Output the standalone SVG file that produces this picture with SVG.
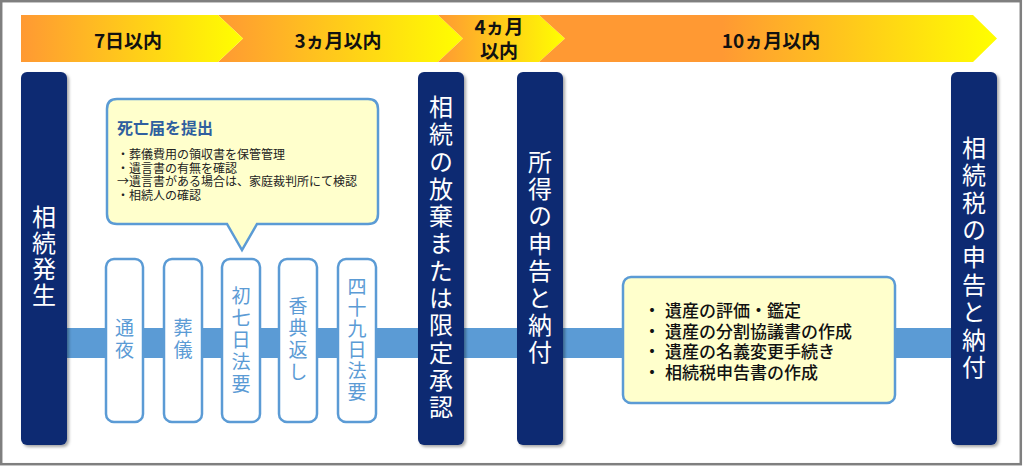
<svg xmlns="http://www.w3.org/2000/svg" width="1024" height="466" viewBox="0 0 1024 466">
<style>
.bn{font-family:"Noto Sans CJK JP","Noto Sans",sans-serif;font-weight:bold;font-size:19px;fill:#111;text-anchor:middle}
.dk{fill:#0D2A72;filter:url(#sh)}
.dt{font-family:"Noto Sans CJK JP","Noto Sans",sans-serif;font-size:24px;fill:#fff;text-anchor:middle;writing-mode:vertical-rl;text-orientation:upright}
.sb{fill:#fff;stroke:#5B9BD5;stroke-width:2.5}
.st{font-family:"Noto Sans CJK JP","Noto Sans",sans-serif;font-size:19px;fill:#5B9BD5;text-anchor:middle;writing-mode:vertical-rl;text-orientation:upright}
.note{fill:#FFFFCC;stroke:#5B9BD5;stroke-width:2.5}
.ct{font-family:"Noto Sans CJK JP","Noto Sans",sans-serif;font-size:12px;fill:#222}
.rt{font-family:"Noto Sans CJK JP","Noto Sans",sans-serif;font-size:17px;font-weight:500;fill:#111}
</style>
<defs>
<linearGradient id="g1" x1="0" y1="0" x2="1" y2="0"><stop offset="0" stop-color="#FF9933"/><stop offset="1" stop-color="#FFFF00"/></linearGradient>
<linearGradient id="g4" x1="0" y1="0" x2="1" y2="0"><stop offset="0" stop-color="#FF9933"/><stop offset="0.4" stop-color="#FF9933"/><stop offset="1" stop-color="#FFFF00"/></linearGradient>
<filter id="sh" x="-30%" y="-5%" width="160%" height="110%"><feDropShadow dx="2" dy="2" stdDeviation="1.5" flood-color="#000" flood-opacity="0.35"/></filter>
</defs>
<rect x="0" y="0" width="1024" height="466" fill="#fff"/>
<rect x="1.2" y="1.2" width="1019.6" height="463" fill="none" stroke="#7F7F7F" stroke-width="2.5"/>

<g id="banner">
<polygon points="218,15 438,15 463,38.5 438,62 218,62 243,38.5" fill="url(#g1)"/>
<polygon points="438,15 539,15 565,38.5 539,62 438,62 463,38.5" fill="url(#g1)"/>
<polygon points="539,15 973,15 997,38.5 973,62 539,62 565,38.5" fill="url(#g4)"/>
<polygon points="21,15 218,15 243,38.5 218,62 21,62" fill="url(#g1)"/>
<text class="bn" x="128" y="48">7日以内</text>
<text class="bn" x="338" y="48">3ヵ月以内</text>
<text class="bn" x="499" y="34">4ヵ月</text>
<text class="bn" x="499" y="58">以内</text>
<text class="bn" x="771" y="48">10ヵ月以内</text>
</g>

<g id="connectors">
<rect x="60" y="328" width="896" height="30" fill="#5B9BD5"/>
</g>

<g id="n-start">
<rect class="dk" x="21" y="72" width="46" height="373" rx="6"/>
<text class="dt" x="44" y="257" letter-spacing="2">相続発生</text>
</g>

<g id="n-callout">
<path class="note" d="M117,99 H368 Q378,99 378,109 V214 Q378,224 368,224 H257 L242,250 L227,224 H117 Q107,224 107,214 V109 Q107,99 117,99 Z"/>
<text x="117" y="134" font-family="'Noto Sans CJK JP','Noto Sans',sans-serif" font-size="16" font-weight="bold" fill="#2F5F9F">死亡届を提出</text>
<text class="ct" x="117" y="159">・葬儀費用の領収書を保管管理</text>
<text class="ct" x="117" y="172.5">・遺言書の有無を確認</text>
<text class="ct" x="117" y="186">→遺言書がある場合は、家庭裁判所にて検認</text>
<text class="ct" x="117" y="199.5">・相続人の確認</text>
</g>

<g id="n-tsuya">
<rect class="sb" x="106" y="259" width="37" height="163" rx="8"/>
<text class="st" x="124.5" y="340" letter-spacing="2.5">通夜</text>
</g>
<g id="n-sougi">
<rect class="sb" x="164" y="259" width="38" height="163" rx="8"/>
<text class="st" x="183" y="340" letter-spacing="2.5">葬儀</text>
</g>
<g id="n-shonanoka">
<rect class="sb" x="222" y="259" width="38" height="163" rx="8"/>
<text class="st" x="241" y="341" letter-spacing="3">初七日法要</text>
</g>
<g id="n-koudengaeshi">
<rect class="sb" x="279" y="259" width="38" height="163" rx="8"/>
<text class="st" x="298" y="340" letter-spacing="3">香典返し</text>
</g>
<g id="n-shijukunichi">
<rect class="sb" x="338" y="259" width="38" height="163" rx="8"/>
<text class="st" x="357" y="340" letter-spacing="2">四十九日法要</text>
</g>

<g id="n-houki">
<rect class="dk" x="418" y="72" width="46" height="373" rx="6"/>
<text class="dt" x="441" y="258.6" letter-spacing="3.3">相続の放棄または限定承認</text>
</g>

<g id="n-shotoku">
<rect class="dk" x="517" y="72" width="46" height="373" rx="6"/>
<text class="dt" x="540" y="258.5" letter-spacing="3.1">所得の申告と納付</text>
</g>

<g id="n-tasks">
<rect class="note" x="623" y="277" width="272" height="126" rx="8"/>
<text class="rt" x="652" y="317" text-anchor="middle">・</text>
<text class="rt" x="665" y="317">遺産の評価・鑑定</text>
<text class="rt" x="652" y="337.5" text-anchor="middle">・</text>
<text class="rt" x="665" y="337.5">遺産の分割協議書の作成</text>
<text class="rt" x="652" y="358" text-anchor="middle">・</text>
<text class="rt" x="665" y="358">遺産の名義変更手続き</text>
<text class="rt" x="652" y="378.5" text-anchor="middle">・</text>
<text class="rt" x="665" y="378.5">相続税申告書の作成</text>
</g>

<g id="n-souzokuzei">
<rect class="dk" x="951" y="72" width="46" height="373" rx="6"/>
<text class="dt" x="974" y="259" letter-spacing="3.4">相続税の申告と納付</text>
</g>
</svg>
